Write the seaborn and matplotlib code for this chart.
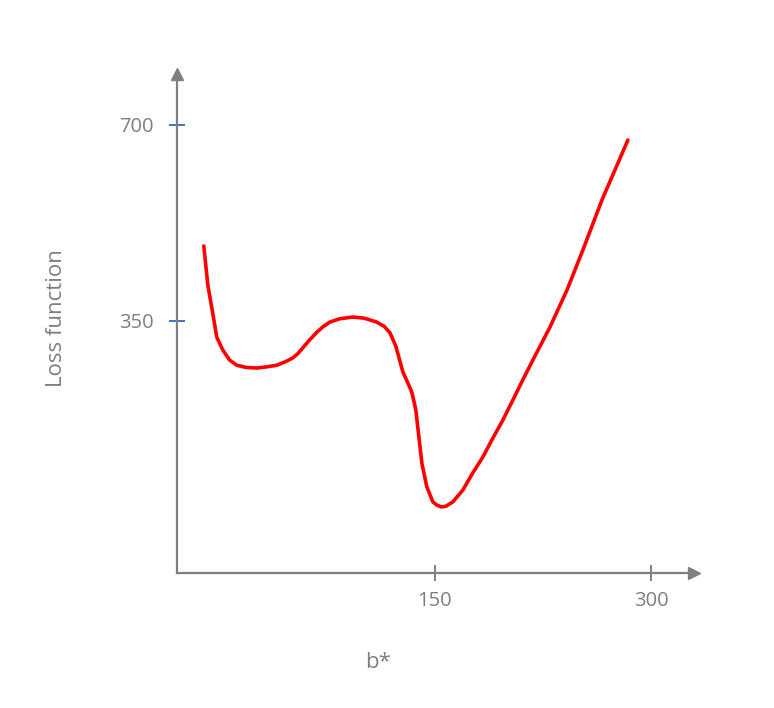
import matplotlib
matplotlib.use("Agg")
import matplotlib.pyplot as plt
import seaborn as sns
import numpy as np

# Data
b_values = [-10.4, -7.6, -4.2, -1.4, 2.8, 7.6, 12.5, 19, 26.4, 33, 40.3, 46, 51.4, 55, 58.3, 63, 68.1, 72.5,
            77.1, 84, 93.1, 101, 109.7, 115, 118.8, 122.9, 127.8, 131.3, 134, 136.8, 138.9, 141, 144.4,
            148.6, 151.5, 154.5, 157.5, 162.5, 169.4, 176.4, 183.3, 190.3, 197.2, 204.2, 211.1, 217.4,
            229.9, 241.7, 252.8, 266, 284]
loss_values = [484, 414, 364, 321, 298, 280, 271, 267, 266, 268, 271, 277, 284, 292, 302, 316, 330, 340,
               348, 354, 357, 355, 348, 340, 329, 305, 259, 239, 223, 191, 143, 96, 54,
               27, 21, 18, 19, 27, 48, 79, 107, 141, 173, 209, 245, 277,
               339, 405, 477, 566, 673]
y_ticks = [350, 700]
x_ticks = [150, 300]

sns.set_theme(style="white")
plt.rcParams['font.family'] = ['Open Sans', 'DejaVu Sans']

gray = "#7f7f7f"
fig = plt.figure(figsize=(7.74, 7.08), dpi=100)
ax = fig.add_axes([177/774, 135/708, (694-177)/774, (573-74)/708])

sns.lineplot(x=b_values, y=loss_values, sort=False, color="#ff0000", linewidth=2.6, ax=ax)
ax.lines[0].set_solid_joinstyle("round")
ax.lines[0].set_solid_capstyle("round")

ax.set_xlim(-29, 329.9)
ax.set_ylim(-100, 791)

for s in ["top", "right"]:
    ax.spines[s].set_visible(False)
for s in ["left", "bottom"]:
    ax.spines[s].set_color(gray)
    ax.spines[s].set_linewidth(1.6)

ax.plot(1, 0, ">", color=gray, markersize=8, transform=ax.transAxes, clip_on=False)
ax.plot(0, 1, "^", color=gray, markersize=8, transform=ax.transAxes, clip_on=False)

ax.set_xticks(x_ticks)
ax.set_xticklabels([str(v) for v in x_ticks])
ax.set_yticks(y_ticks)
ax.set_yticklabels([str(v) for v in y_ticks])
ax.tick_params(axis="x", direction="inout", length=12, width=1.4, color=gray,
               labelcolor=gray, labelsize=14.5, pad=7, bottom=True)
ax.tick_params(axis="y", direction="inout", length=12, width=1.4, color="#4472c4",
               labelcolor=gray, labelsize=14.5, pad=11, left=True)

fig.text(378/774, 1 - 663/708, "b*", color=gray, fontsize=16, ha="center", va="center")
fig.text(57/774, 1 - 318/708, "Loss function", color=gray, fontsize=16, ha="center", va="center",
         rotation=90)

fig.savefig("out.png", dpi=100)
